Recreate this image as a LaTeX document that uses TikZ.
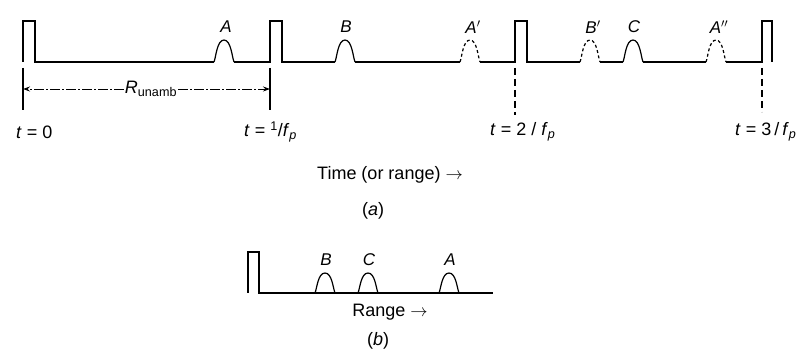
\documentclass[tikz,border=0pt]{standalone}
\usepackage{fontspec}
\setmainfont{Liberation Sans}
\usetikzlibrary{arrows.meta}
\tikzset{
  wave/.style={line width=1.2pt, line join=miter},
  echodash/.style={wave, dash pattern=on 3pt off 2.5pt},
  marker/.style={line width=1.1pt},
  markerdash/.style={line width=1.1pt, dash pattern=on 7pt off 4pt},
  dimline/.style={line width=0.9pt, dash pattern=on 10pt off 2pt on 2pt off 2pt, -{Stealth[length=7pt,width=5pt]}},
  lbl/.style={inner sep=1pt, font=\fontsize{17}{19}\selectfont\itshape},
  txt/.style={inner sep=1pt, font=\fontsize{18}{20}\selectfont},
  echo/.pic={\draw[pic actions] (-10,0) .. controls (-8,-5) and (-7,-22) .. (0,-22) .. controls (7,-22) and (8,-5) .. (10,0);},
  echob/.pic={\draw[pic actions] (-10,0) .. controls (-8,-5) and (-7,-20) .. (0,-20) .. controls (7,-20) and (8,-5) .. (10,0);}
}
\begin{document}
\begin{tikzpicture}[x=1pt,y=-1pt]
\useasboundingbox (0,0) rectangle (805,352);
% ---------- (a) -----------
\draw[wave] (23,62) -- (23,21) -- (35,21) -- (35,62) -- (214,62);
\pic[wave] at (224,62) {echo};
\draw[wave] (234,62) -- (270,62) -- (270,21) -- (282,21) -- (282,62) -- (335,62);
\pic[wave] at (345,62) {echo};
\draw[wave] (355,62) -- (460,62);
\pic[echodash] at (470,62) {echo};
\draw[wave] (480,62) -- (515,62) -- (515,21) -- (527,21) -- (527,62) -- (580,62);
\pic[echodash] at (590,62) {echo};
\draw[wave] (600,62) -- (623,62);
\pic[wave] at (633,62) {echo};
\draw[wave] (643,62) -- (706,62);
\pic[echodash] at (716,62) {echo};
\draw[wave] (726,62) -- (762,62) -- (762,21) -- (772,21) -- (772,62);

\node[lbl] (A) at (226,27) {A};
\node[lbl] (B) at (346,27) {B};
\node[lbl] (Ap) at (473,27) {A$'$};
\node[lbl] (Bp) at (593,27) {B$'$};
\node[lbl] (C) at (634,27) {C};
\node[lbl] (App) at (719,27) {A$''$};

\coordinate (m0t) at (23,68);  \coordinate (m0b) at (23,110);
\coordinate (m1t) at (270,68); \coordinate (m1b) at (270,110);
\coordinate (m2t) at (515,68); \coordinate (m2b) at (515,115);
\coordinate (m3t) at (762,68); \coordinate (m3b) at (762,112);
\draw[marker] (m0t) -- (m0b);
\draw[marker] (m1t) -- (m1b);
\draw[markerdash] (m2t) -- (m2b);
\draw[markerdash] (m3t) -- (m3b);

\node[txt] (R) at (151,89) {\textit{R}\textsubscript{unamb}};
\coordinate (r0) at (23,89);
\coordinate (r1) at (270,89);
\draw[dimline] (R.west) -- (r0);
\draw[dimline] (R.east) -- (r1);

\node[txt, anchor=west] (t0) at (15,132) {\textit{t} = 0};
\node[txt, anchor=west] (t1) at (243,132) {\textit{t} = \textsuperscript{1}/\textit{f}\textsubscript{\textit{p}}};
\node[txt, anchor=west] (t2) at (489,132) {\textit{t} = 2 / \textit{f}\textsubscript{\textit{p}}};
\node[txt, anchor=west] (t3) at (734,132) {\textit{t} = 3\,/\,\textit{f}\textsubscript{\textit{p}}};

\node[txt] (time) at (390,175) {Time (or range) $\rightarrow$};
\node[txt] (la) at (373,211) {(\textit{a})};

% ---------- (b) -----------
\draw[wave] (248,293) -- (248,252) -- (259,252) -- (259,293) -- (493,293);
\pic[wave] at (325,293) {echob};
\pic[wave] at (368,293) {echob};
\pic[wave] at (449,293) {echob};
\node[lbl] (Bb) at (326,260) {B};
\node[lbl] (Cb) at (369,260) {C};
\node[lbl] (Ab) at (450,260) {A};
\node[txt] (range) at (390,312) {Range $\rightarrow$};
\node[txt] (lb) at (378,341) {(\textit{b})};
\end{tikzpicture}
\end{document}
